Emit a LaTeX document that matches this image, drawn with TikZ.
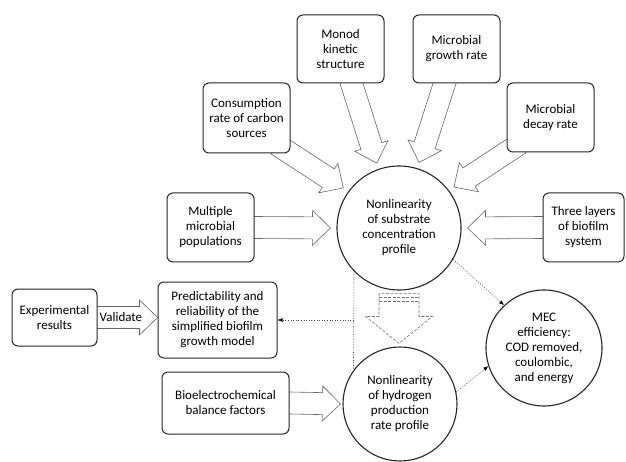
\documentclass[tikz,border=0pt]{standalone}
\usepackage{fontspec}
\setmainfont{Carlito}
\usepackage{tikz}
\usetikzlibrary{calc, backgrounds}
\usetikzlibrary{arrows.meta}

\tikzset{
  box/.style={draw=black!85, line width=1pt, rounded corners=6pt, fill=white,
    align=center, inner sep=2pt},
  roundnode/.style={circle, draw=black!85, line width=1.1pt, align=center, inner sep=0pt},
  hollowarrow/.style={draw=black!60, line width=0.6pt, line join=miter},
  dasharrow/.style={draw=black!55, line width=0.6pt, dash pattern=on 3pt off 1.5pt},
  dotline/.style={draw=black!70, line width=0.6pt, dash pattern=on 1pt off 1.6pt},
  dotarrow/.style={dotline, -{Latex[length=5pt, width=4pt, black]}},
}

% hollow block arrow: [gap]{start}{end}
\newcommand{\bigarrow}[3][6pt]{%
  \path #2 coordinate (ba-s) #3 coordinate (ba-e);
  \path ($(ba-e)!#1!(ba-s)$) coordinate (ba-t)
        ($(ba-s)!-16pt!(ba-t)$) coordinate (ba-b)
        ($(ba-t)!18pt!(ba-s)$) coordinate (ba-h);
  \draw[hollowarrow] ($(ba-b)!11pt!90:(ba-t)$) -- ($(ba-h)!11pt!-90:(ba-b)$)
    -- ($(ba-h)!17.5pt!-90:(ba-b)$) -- (ba-t) -- ($(ba-h)!17.5pt!90:(ba-b)$)
    -- ($(ba-h)!11pt!90:(ba-b)$) -- ($(ba-b)!11pt!-90:(ba-t)$) -- cycle;}

\begin{document}
\begin{tikzpicture}[x=1pt, y=-1pt, every node/.style={font=\fontsize{13}{15}\selectfont}]
  \useasboundingbox (0,0) rectangle (626,462);

  % central circles
  \node[roundnode, minimum size=124pt] (c1) at (399,228)
    {Nonlinearity\\of substrate\\concentration\\profile};
  \node[roundnode, minimum size=114pt] (c2) at (400,404)
    {Nonlinearity\\of hydrogen\\production\\rate profile};
  \node[roundnode, minimum size=116pt] (mec) at (544,348)
    {MEC\\efficiency:\\COD removed,\\coulombic,\\and energy};

  % factor boxes
  \node[box, minimum width=87pt, minimum height=70pt] (consump) at (246.5,118)
    {Consumption\\rate of carbon\\sources};
  \node[box, minimum width=87pt, minimum height=68pt] (monod) at (340.5,49)
    {Monod\\kinetic\\structure};
  \node[box, minimum width=87pt, minimum height=68pt] (growth) at (456.5,49)
    {Microbial\\growth rate};
  \node[box, minimum width=87pt, minimum height=69pt] (decay) at (550.5,117.5)
    {Microbial\\decay rate};
  \node[box, minimum width=87pt, minimum height=69pt] (multi) at (210.5,227.5)
    {Multiple\\microbial\\populations};
  \node[box, minimum width=81pt, minimum height=69pt] (three) at (583.5,227.5)
    {Three layers\\of biofilm\\system};

  % model boxes
  \node[box, minimum width=85pt, minimum height=57pt] (exper) at (54.5,317.5)
    {Experimental\\results};
  \node[box, minimum width=119pt, minimum height=76pt] (pred) at (217.5,320)
    {Predictability and\\reliability of the\\simplified biofilm\\growth model};
  \node[box, minimum width=127pt, minimum height=62pt] (bio) at (225.5,403)
    {Bioelectrochemical\\balance factors};

  % block arrows behind the boxes
  \begin{scope}[on background layer]
    \bigarrow{(consump.south east)}{(c1.144)}
    \bigarrow{([xshift=11pt]monod.south)}{(c1.109)}
    \bigarrow{([xshift=-12pt]growth.south)}{(c1.73)}
    \bigarrow{(decay.south west)}{(c1.37)}
    \bigarrow{(three.west)}{(c1.0)}
    \bigarrow{(multi.east)}{(c1.180)}
    \bigarrow[2pt]{(bio.east)}{(c2.180)}
    \bigarrow[0pt]{(exper.east)}{(pred.west |- exper.east)}

    % dashed arrow between the circles
    \coordinate (da-top) at ([yshift=-3pt]c1.south);
    \coordinate (da-tip) at ([yshift=3pt]c1.south |- c2.north);
    \draw[dasharrow] ([xshift=-20pt]da-top) -- ([xshift=-20pt, yshift=27pt]da-tip)
      -- ([xshift=-33.5pt, yshift=27pt]da-tip) -- (da-tip)
      -- ([xshift=33.5pt, yshift=27pt]da-tip) -- ([xshift=20pt, yshift=27pt]da-tip)
      -- ([xshift=20pt]da-top) -- cycle;
    \draw[dasharrow] ([xshift=-20pt, yshift=-4pt]da-top) -- ([xshift=20pt, yshift=-4pt]da-top);
    \draw[dasharrow] ([xshift=-20pt, yshift=-8pt]da-top) -- ([xshift=20pt, yshift=-8pt]da-top);
  \end{scope}

  \node[inner sep=1pt, anchor=west] (validate) at ([xshift=1pt]exper.east) {Validate};

  % dotted links
  \draw[dotline] (c1.224) -- (c2.144);
  \draw[dotarrow] (c1.224 |- pred.east) -- (pred.east);
  \draw[dotarrow] (c1.-30) -- (mec.133);
  \draw[dotarrow] (c2.12) -- (mec.198);
\end{tikzpicture}
\end{document}
